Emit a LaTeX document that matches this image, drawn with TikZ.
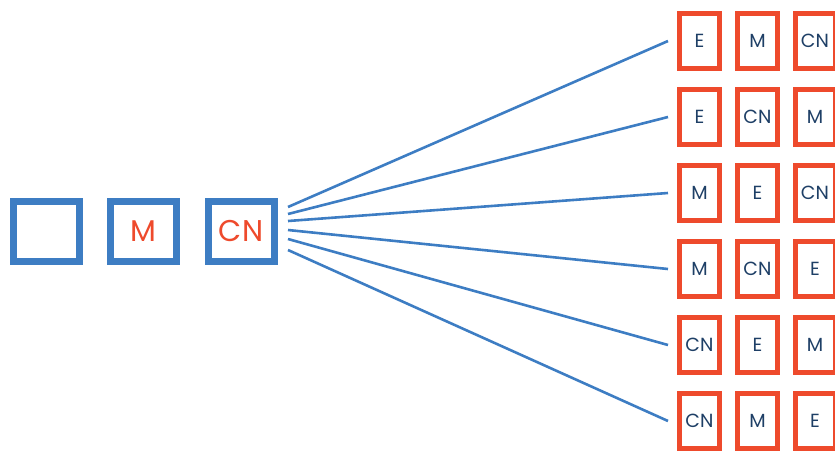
\documentclass[tikz,border=0pt]{standalone}
\usepackage{fontspec}
\setmainfont{Poppins}
\definecolor{bluebox}{HTML}{3D7DC3}
\definecolor{redbox}{HTML}{EE4A2C}
\definecolor{darktext}{HTML}{1E3F66}
\begin{document}
\begin{tikzpicture}[x=1pt,y=-1pt,
  bigbox/.style={draw=bluebox,line width=7pt,minimum width=66pt,minimum height=60pt,inner sep=0pt,
     text=redbox,font=\fontsize{30}{30}\selectfont},
  smallbox/.style={draw=redbox,line width=5pt,minimum width=40pt,minimum height=55pt,inner sep=0pt,
     text=darktext,font=\fontsize{19}{19}\selectfont},
  link/.style={draw=bluebox,line width=2.6pt}]
\useasboundingbox (0,0) rectangle (835,451);
\node[bigbox] (b1) at (46,231) {};
\node[bigbox] (b2) at (143.5,231) {M};
\node[bigbox] (b3) at (241,231) {CN};
\foreach \r/\y/\a/\b/\c in {1/41/E/M/CN, 2/117/E/CN/M, 3/193/M/E/CN, 4/269/M/CN/E, 5/345/CN/E/M, 6/421/CN/M/E}{
  \node[smallbox] (r\r c1) at (699.5,\y) {\a};
  \node[smallbox] (r\r c2) at (757.5,\y) {\b};
  \node[smallbox] (r\r c3) at (815,\y) {\c};
  \coordinate (e\r) at (668,\y);
}
\coordinate (s1) at (288,207);
\coordinate (s2) at (288,214);
\coordinate (s3) at (288,221);
\coordinate (s4) at (288,230);
\coordinate (s5) at (288,239);
\coordinate (s6) at (288,250);
\foreach \i in {1,...,6}{\draw[link] (s\i) -- (e\i);}
\end{tikzpicture}
\end{document}
